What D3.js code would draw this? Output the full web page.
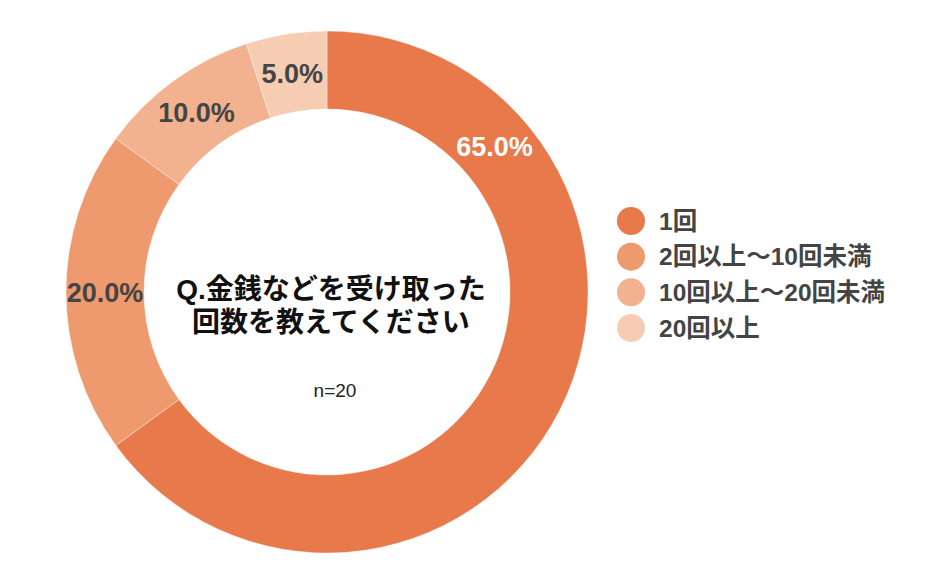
<!DOCTYPE html>
<html><head><meta charset="utf-8">
<script src="https://cdn.jsdelivr.net/npm/d3@7"></script>
<style>body{margin:0;background:#fff;}svg{display:block;font-family:Arial,"Liberation Sans","Noto Sans CJK JP",sans-serif;}</style>
</head><body>
<svg id="c" width="934" height="577"></svg>
<script>
const categories = ["1回", "2回以上〜10回未満", "10回以上〜20回未満", "20回以上"];
const values = [65.0, 20.0, 10.0, 5.0];
const colors = ["#E8794A", "#EE9A6E", "#F2B18F", "#F6CDB3"];
const labelColors = ["#ffffff", "#444444", "#444444", "#444444"];
const titleLines = ["Q.金銭などを受け取った", "回数を教えてください"];
const nLabel = "n=20";

const svg = d3.select("#c");
const cx = 327, cy = 292, R = 261, r = 183;
const g = svg.append("g").attr("transform", `translate(${cx},${cy})`);
const pie = d3.pie().sort(null).value(d => d);
const arcs = pie(values);
const arc = d3.arc().innerRadius(r).outerRadius(R);
g.selectAll("path").data(arcs).join("path")
  .attr("d", arc).attr("fill", (d, i) => colors[i])
  .attr("stroke", "#fff").attr("stroke-width", 0.6).attr("stroke-opacity", 0.6);

const lr = (r + R) / 2;
g.selectAll("text.lbl").data(arcs).join("text").attr("class", "lbl")
  .each(function (d, i) {
    let a = (d.startAngle + d.endAngle) / 2;
    if (d.endAngle - d.startAngle > Math.PI) a = Math.min(a, d.startAngle + 0.855);
    d3.select(this).attr("x", lr * Math.sin(a)).attr("y", -lr * Math.cos(a) + 10);
  })
  .attr("text-anchor", "middle")
  .attr("font-size", 27).attr("font-weight", "bold")
  .attr("fill", (d, i) => labelColors[i])
  .text(d => d.data.toFixed(1) + "%");

const tg = svg.append("g");
titleLines.forEach((t, i) => {
  tg.append("text").attr("x", 331).attr("y", 299 + i * 33)
    .attr("text-anchor", "middle").attr("font-size", 28).attr("font-weight", "bold")
    .attr("fill", "#111").text(t);
});
tg.append("text").attr("x", 335).attr("y", 397).attr("text-anchor", "middle")
  .attr("font-size", 19).attr("fill", "#222").text(nLabel);

const leg = svg.append("g");
const ly = d3.scalePoint().domain(categories).range([221, 328]);
categories.forEach((c, i) => {
  leg.append("circle").attr("cx", 631).attr("cy", ly(c)).attr("r", 14).attr("fill", colors[i]);
  leg.append("text").attr("x", 659).attr("y", ly(c) + 8.5)
    .attr("font-size", 24.5).attr("font-weight", "bold").attr("fill", "#444").text(c);
});
</script>
</body></html>
